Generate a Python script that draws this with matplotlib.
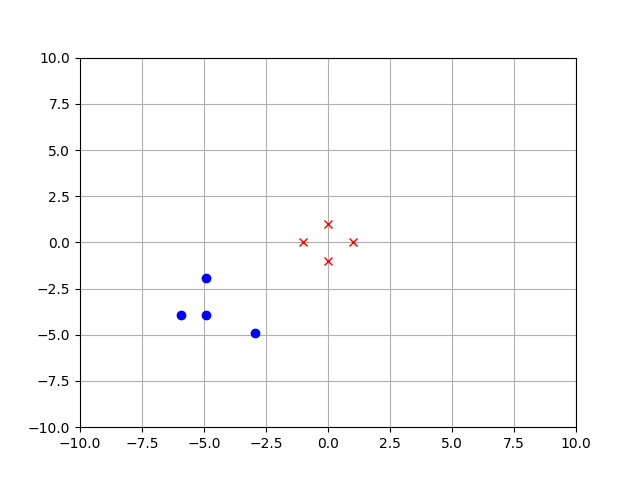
import matplotlib
matplotlib.use("Agg")
import matplotlib.pyplot as plt

blue_x = [-5.93, -4.93, -4.93, -2.93]
blue_y = [-3.93, -1.93, -3.93, -4.9]
red_x = [0, -1, 1, 0]
red_y = [1, 0, 0, -1]

fig, ax = plt.subplots(figsize=(6.4, 4.8), dpi=100)
ax.plot(blue_x, blue_y, 'bo')
ax.plot(red_x, red_y, 'rx')
ax.set_xlim(-10, 10)
ax.set_ylim(-10, 10)
ax.grid(True)
fig.savefig("out.png")
